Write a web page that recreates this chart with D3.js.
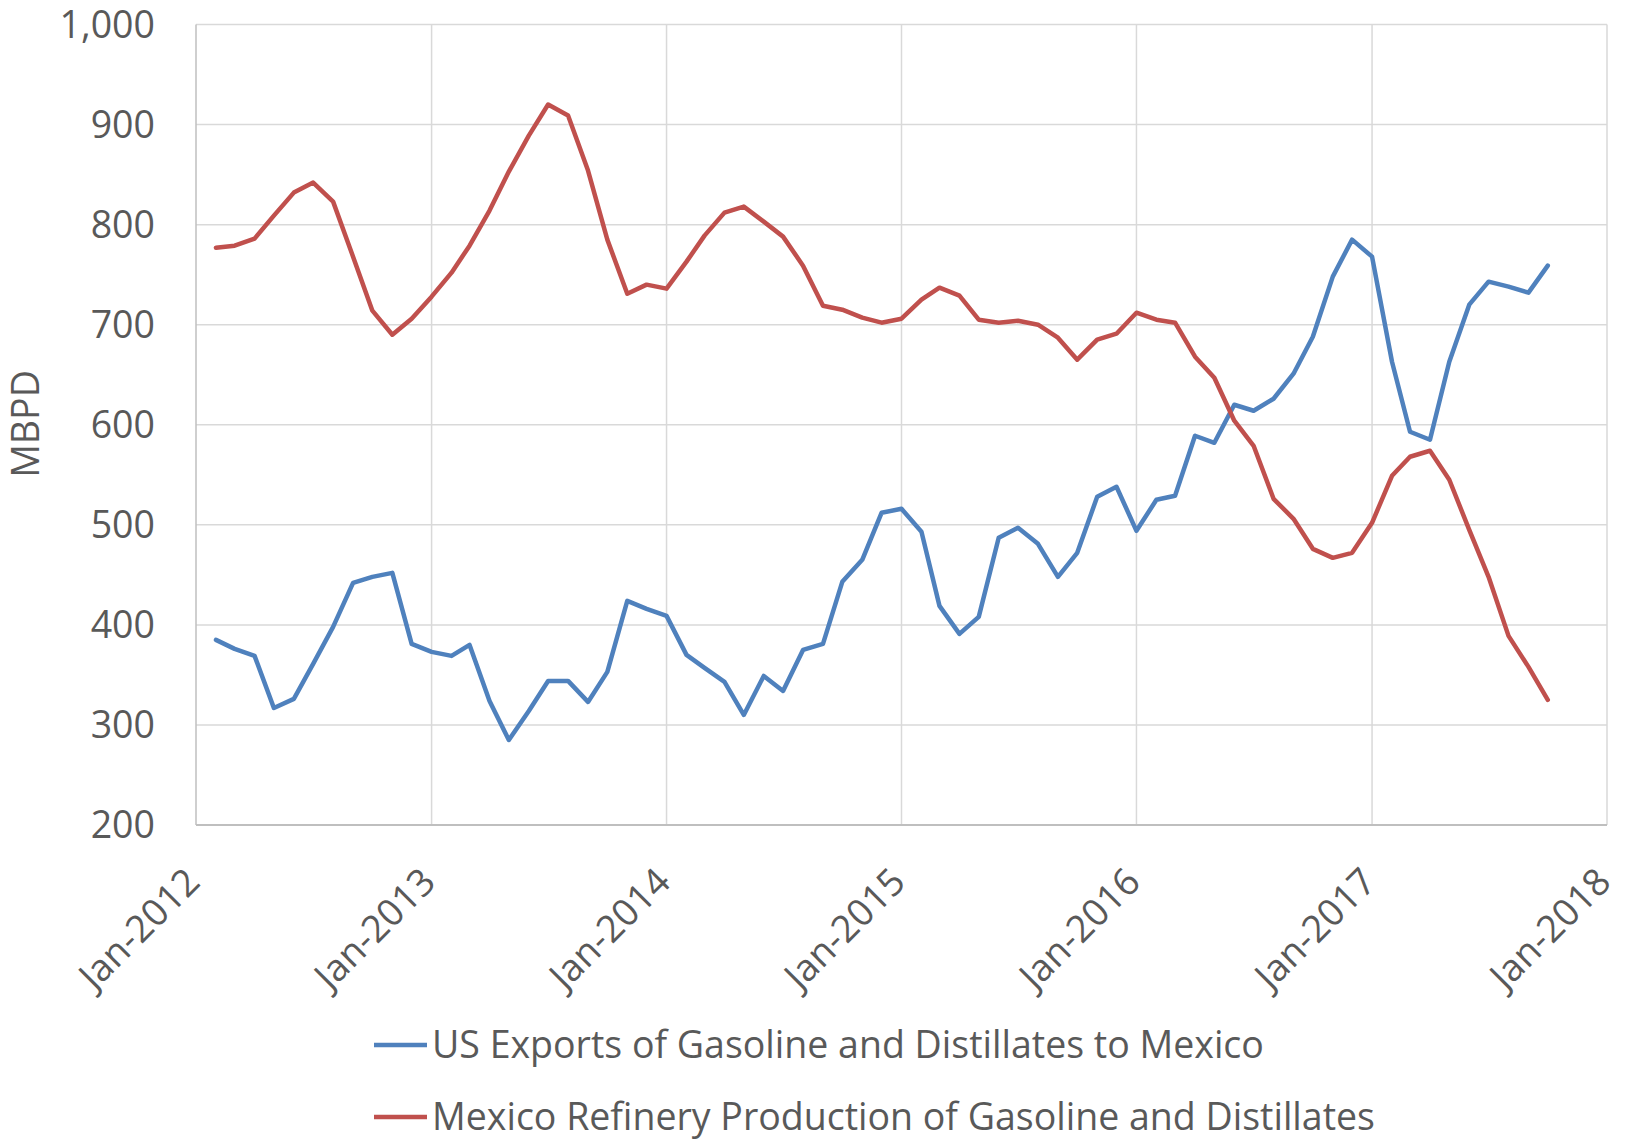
<!DOCTYPE html>
<html lang="en">

<head>
    <title>US Exports vs Mexico Refinery Production</title>
    <meta charset="utf-8">
    <script src="https://d3js.org/d3.v7.min.js"></script>
    <style>
        body { margin: 0; background: #fff; }
        svg text { font-family: "Open Sans", sans-serif; fill: #595959; }
    </style>
</head>

<body>
    <div id="container"></div>
    <script>
        // Data (MBPD), monthly from Feb-2012 to Oct-2017
        const firstMonth = new Date(2012, 1, 1);
        const usExports = [
            385, 376, 369, 317, 326, 361, 398, 442, 448, 452, 381, 373,
            369, 380, 324, 285, 314, 344, 344, 323, 353, 424, 416, 409,
            370, 357, 343, 310, 349, 334, 375, 381, 443, 465, 512, 516,
            493, 419, 391, 408, 487, 497, 481, 448, 472, 528, 538, 494,
            525, 529, 589, 582, 620, 614, 626, 651, 688, 748, 785, 768,
            663, 593, 585, 663, 720, 743, 738, 732, 759
        ];
        const mexicoProduction = [
            777, 779, 786, 809, 832, 842, 823, 768, 714, 690, 706, 728,
            752, 779, 814, 853, 889, 920, 909, 854, 785, 731, 740, 736,
            763, 789, 812, 818, 803, 788, 759, 719, 715, 707, 702, 706,
            725, 737, 729, 705, 702, 704, 700, 687, 665, 685, 691, 712,
            705, 702, 668, 647, 604, 579, 526, 506, 476, 467, 472, 502,
            549, 568, 574, 545, 495, 448, 389, 358, 325
        ];
        const seriesNames = [
            "US Exports of Gasoline and Distillates to Mexico",
            "Mexico Refinery Production of Gasoline and Distillates"
        ];
        const seriesColors = ["#4f81bd", "#c0504d"];
        const yTicks = [200, 300, 400, 500, 600, 700, 800, 900, 1000];
        const xTickYears = [2012, 2013, 2014, 2015, 2016, 2017, 2018];

        const months = d3.timeMonth.range(firstMonth, d3.timeMonth.offset(firstMonth, usExports.length));
        const series = [usExports, mexicoProduction].map((vals, k) => ({
            name: seriesNames[k],
            color: seriesColors[k],
            values: vals.map((v, i) => ({ date: months[i], value: v }))
        }));

        // Chart dimensions
        const width = 1628;
        const height = 1141;
        const margin = { top: 24.5, right: 21, bottom: 316, left: 196 };

        const svg = d3.select("#container")
            .append("svg")
            .attr("width", width)
            .attr("height", height);

        // Scales
        const x = d3.scaleTime()
            .domain([new Date(2012, 0, 1), new Date(2018, 0, 1)])
            .range([margin.left, width - margin.right]);

        const y = d3.scaleLinear()
            .domain([200, 1000])
            .range([height - margin.bottom, margin.top]);

        const xTicks = xTickYears.map(yr => new Date(yr, 0, 1));
        const fontSize = 37.5;

        // Gridlines
        svg.append("g")
            .selectAll("line")
            .data(yTicks.slice(1))
            .join("line")
            .attr("x1", margin.left)
            .attr("x2", width - margin.right)
            .attr("y1", d => y(d))
            .attr("y2", d => y(d))
            .attr("stroke", "#d9d9d9")
            .attr("stroke-width", 1.5);

        svg.append("g")
            .selectAll("line")
            .data(xTicks.slice(1))
            .join("line")
            .attr("x1", d => x(d))
            .attr("x2", d => x(d))
            .attr("y1", y(200))
            .attr("y2", y(1000))
            .attr("stroke", "#d9d9d9")
            .attr("stroke-width", 1.5);

        // Axis lines
        svg.append("line")
            .attr("x1", margin.left)
            .attr("x2", margin.left)
            .attr("y1", y(200))
            .attr("y2", y(1000))
            .attr("stroke", "#bfbfbf")
            .attr("stroke-width", 1.5);

        svg.append("line")
            .attr("x1", margin.left)
            .attr("x2", width - margin.right)
            .attr("y1", y(200))
            .attr("y2", y(200))
            .attr("stroke", "#bfbfbf")
            .attr("stroke-width", 2);

        // Y tick labels
        svg.append("g")
            .selectAll("text")
            .data(yTicks)
            .join("text")
            .attr("x", 155)
            .attr("y", d => y(d) + 13)
            .attr("text-anchor", "end")
            .style("font-size", fontSize + "px")
            .text(d3.format(","));

        // Y axis title
        svg.append("text")
            .attr("transform", `translate(${39},${424}) rotate(-90)`)
            .attr("text-anchor", "middle")
            .style("font-size", fontSize + "px")
            .text("MBPD");

        // X tick labels
        const fmt = d3.timeFormat("%b-%Y");
        svg.append("g")
            .selectAll("text")
            .data(xTicks)
            .join("text")
            .attr("transform", d => `translate(${x(d) + 6},${884}) rotate(-45)`)
            .attr("text-anchor", "end")
            .style("font-size", fontSize + "px")
            .text(d => fmt(d));

        // Lines
        const line = d3.line()
            .x(d => x(d.date))
            .y(d => y(d.value));

        svg.append("g")
            .selectAll("path")
            .data(series)
            .join("path")
            .attr("d", d => line(d.values))
            .attr("fill", "none")
            .attr("stroke", d => d.color)
            .attr("stroke-width", 4.5)
            .attr("stroke-linejoin", "round")
            .attr("stroke-linecap", "round");

        // Legend
        const legend = svg.append("g")
            .selectAll("g")
            .data(series)
            .join("g")
            .attr("transform", (d, i) => `translate(374,${1045 + i * 72})`);

        legend.append("line")
            .attr("x1", 0)
            .attr("x2", 53)
            .attr("stroke", d => d.color)
            .attr("stroke-width", 4.5);

        legend.append("text")
            .attr("x", 58)
            .attr("y", 13)
            .style("font-size", fontSize + "px")
            .text(d => d.name);
    </script>
</body>

</html>
